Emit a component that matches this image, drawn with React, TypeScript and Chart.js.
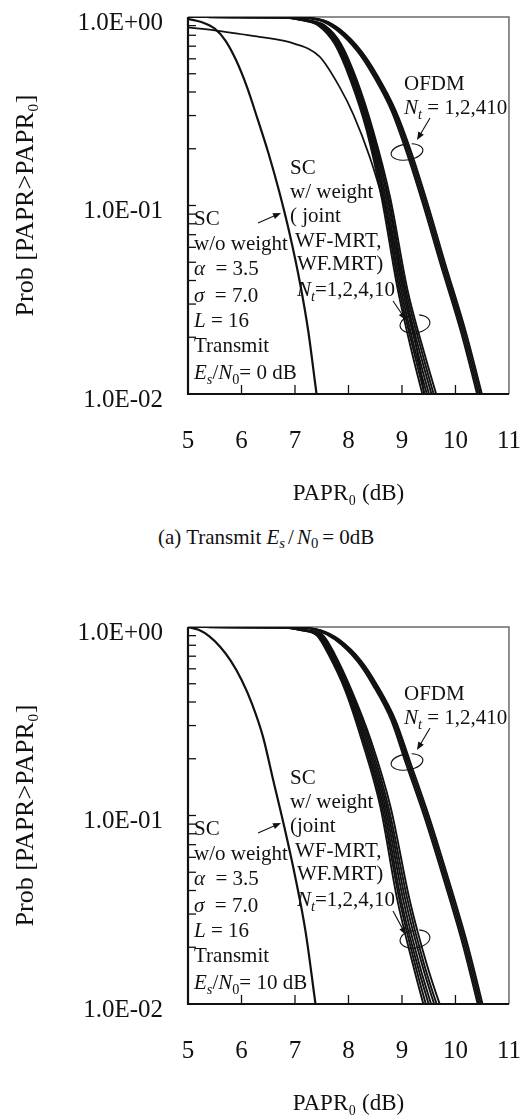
import React, { useEffect, useRef } from "react";
import { Chart, registerables } from "chart.js";

Chart.register(...registerables);

// ---------- axes ----------
const X_TICKS = [5, 6, 7, 8, 9, 10, 11];
const Y_TICKS = [1, 0.1, 0.01];
const Y_TICK_LABELS = ["1.0E+00", "1.0E-01", "1.0E-02"];
const Y_MINOR = [0.9, 0.8, 0.7, 0.6, 0.5, 0.4, 0.3, 0.2, 0.1, 0.09, 0.08, 0.07, 0.06, 0.05, 0.04, 0.03, 0.02];

// ---------- (a) Transmit Es/N0 = 0 dB ----------
// SC w/o weight
const scNoWeightX_a = [5.0, 5.25, 5.5, 5.7, 5.9, 6.1, 6.3, 6.5, 6.7, 6.9, 7.1, 7.25, 7.38, 7.45];
const scNoWeightP_a = [0.977, 0.94, 0.867, 0.75, 0.589, 0.427, 0.288, 0.191, 0.12, 0.0708, 0.038, 0.0214, 0.0112, 0.0079];
// SC w/ weight curve starting below 1
const scLowStartX_a = [5.0, 5.5, 6.0, 6.33, 6.97, 7.46, 7.83, 8.1, 8.4, 8.65, 8.9, 9.1, 9.3, 9.45];
const scLowStartP_a = [0.88, 0.85, 0.81, 0.785, 0.725, 0.616, 0.427, 0.3, 0.18, 0.105, 0.055, 0.03, 0.016, 0.0085];
// SC w/ weight bundle: x (dB) where each curve reaches SC_LEVELS
const SC_LEVELS = [1.0, 0.995, 0.96, 0.9, 0.72, 0.46, 0.25, 0.11, 0.036, 0.016, 0.008];
const scW1_a = [5, 6.62, 7.14, 7.44, 7.74, 8.04, 8.34, 8.62, 8.92, 9.2, 9.47];
const scW2_a = [5, 6.65, 7.16, 7.46, 7.76, 8.06, 8.36, 8.65, 8.95, 9.24, 9.51];
const scW3_a = [5, 6.68, 7.18, 7.48, 7.78, 8.08, 8.38, 8.67, 8.98, 9.27, 9.56];
const scW4_a = [5, 6.7, 7.2, 7.5, 7.8, 8.1, 8.4, 8.7, 9.01, 9.31, 9.6];
const scW5_a = [5, 6.73, 7.22, 7.52, 7.82, 8.12, 8.42, 8.73, 9.04, 9.35, 9.65];
const scW6_a = [5, 6.76, 7.24, 7.54, 7.84, 8.14, 8.44, 8.75, 9.07, 9.39, 9.69];
const scW7_a = [5, 6.78, 7.26, 7.56, 7.86, 8.16, 8.46, 8.78, 9.1, 9.43, 9.74];
// OFDM bundle: x (dB) where each curve reaches OFDM_LEVELS
const OFDM_LEVELS = [1.0, 0.995, 0.96, 0.86, 0.66, 0.49, 0.32, 0.19, 0.1, 0.05, 0.021, 0.008];
const ofdm1_a = [5, 6.96, 7.46, 7.76, 8.16, 8.46, 8.8, 9.09, 9.4, 9.71, 10.11, 10.49];
const ofdm2_a = [5, 6.99, 7.49, 7.79, 8.19, 8.49, 8.83, 9.12, 9.43, 9.74, 10.14, 10.52];
const ofdm3_a = [5, 7.02, 7.52, 7.82, 8.22, 8.52, 8.86, 9.15, 9.46, 9.77, 10.17, 10.55];
const ofdm4_a = [5, 7.04, 7.54, 7.84, 8.24, 8.54, 8.88, 9.18, 9.49, 9.8, 10.2, 10.58];

// ---------- (b) Transmit Es/N0 = 10 dB ----------
const scNoWeightX_b = [5.0, 5.2, 5.4, 5.6, 5.8, 6.0, 6.2, 6.4, 6.6, 6.8, 7.0, 7.2, 7.36, 7.42];
const scNoWeightP_b = [1.0, 0.966, 0.891, 0.785, 0.661, 0.525, 0.389, 0.263, 0.151, 0.0871, 0.0479, 0.024, 0.0112, 0.0083];
const scW1_b = [5, 6.62, 7.12, 7.41, 7.62, 7.94, 8.25, 8.6, 8.91, 9.21, 9.49];
const scW2_b = [5, 6.65, 7.14, 7.43, 7.64, 7.96, 8.28, 8.63, 8.95, 9.25, 9.54];
const scW3_b = [5, 6.68, 7.16, 7.45, 7.66, 7.98, 8.3, 8.66, 8.98, 9.29, 9.6];
const scW4_b = [5, 6.7, 7.18, 7.47, 7.68, 8.0, 8.33, 8.69, 9.02, 9.33, 9.65];
const scW5_b = [5, 6.73, 7.2, 7.49, 7.7, 8.02, 8.36, 8.72, 9.06, 9.38, 9.71];
const scW6_b = [5, 6.76, 7.22, 7.51, 7.72, 8.04, 8.39, 8.75, 9.1, 9.42, 9.76];
const scW7_b = [5, 6.78, 7.24, 7.53, 7.74, 8.06, 8.42, 8.79, 9.14, 9.47, 9.82];
const ofdm1_b = [5, 6.96, 7.41, 7.74, 8.16, 8.46, 8.8, 9.07, 9.41, 9.74, 10.13, 10.5];
const ofdm2_b = [5, 6.99, 7.44, 7.77, 8.19, 8.49, 8.83, 9.1, 9.44, 9.77, 10.16, 10.53];
const ofdm3_b = [5, 7.02, 7.47, 7.8, 8.22, 8.52, 8.86, 9.13, 9.47, 9.8, 10.19, 10.56];
const ofdm4_b = [5, 7.04, 7.49, 7.82, 8.24, 8.54, 8.88, 9.16, 9.5, 9.83, 10.22, 10.59];

const FONT = '"Liberation Serif", "Times New Roman", Times, serif';
const INK = "#111";

// canvas geometry: Chart.js reserves (half label + tick padding) above/right of the plot,
// so the canvas is shifted up and made wider so the plot lands where the reference has it.
const CANVAS_W = 553;
const CANVAS_H = 532;
const CANVAS_SHIFT = 23;

const pts = (xs: number[], ps: number[]) => xs.map((x, i) => ({ x, y: ps[i] }));

function line(data: { x: number; y: number }[], width: number) {
  return {
    data,
    borderColor: INK,
    borderWidth: width,
    pointRadius: 0,
    fill: false,
    cubicInterpolationMode: "monotone" as const,
  };
}

type Run = { t: string; i?: boolean; sub?: boolean };
type Label = { x: number; y: number; runs: Run[] };
type Arrow = { x1: number; y1: number; x2: number; y2: number };
type Loop = { x: number; y: number; rx: number; ry: number };

function drawRich(ctx: CanvasRenderingContext2D, x: number, yc: number, runs: Run[], size: number) {
  let cx = x;
  const base = yc + size * 0.33;
  for (const r of runs) {
    const fs = r.sub ? size * 0.68 : size;
    ctx.font = `${r.i ? "italic " : ""}${fs}px ${FONT}`;
    ctx.textBaseline = "alphabetic";
    ctx.textAlign = "left";
    ctx.fillText(r.t, cx, base + (r.sub ? size * 0.22 : 0));
    cx += ctx.measureText(r.t).width;
  }
}

function drawArrow(ctx: CanvasRenderingContext2D, a: Arrow) {
  const ang = Math.atan2(a.y2 - a.y1, a.x2 - a.x1);
  const hl = 8;
  const hw = 3.2;
  ctx.beginPath();
  ctx.moveTo(a.x1, a.y1);
  ctx.lineTo(a.x2 - Math.cos(ang) * hl * 0.8, a.y2 - Math.sin(ang) * hl * 0.8);
  ctx.stroke();
  ctx.beginPath();
  ctx.moveTo(a.x2, a.y2);
  ctx.lineTo(a.x2 - Math.cos(ang) * hl - Math.sin(ang) * hw, a.y2 - Math.sin(ang) * hl + Math.cos(ang) * hw);
  ctx.lineTo(a.x2 - Math.cos(ang) * hl + Math.sin(ang) * hw, a.y2 - Math.sin(ang) * hl - Math.cos(ang) * hw);
  ctx.closePath();
  ctx.fill();
}

const decorPlugin = {
  id: "decor",
  beforeDatasetsDraw(chart: any) {
    const { ctx, chartArea: a } = chart;
    ctx.save();
    ctx.strokeStyle = "#6a6a6a";
    ctx.lineWidth = 1.5;
    ctx.beginPath();
    ctx.moveTo(a.left, a.top);
    ctx.lineTo(a.right, a.top);
    ctx.lineTo(a.right, a.bottom);
    ctx.stroke();
    ctx.restore();
  },
  afterDatasetsDraw(chart: any, _args: any, opts: any) {
    const { ctx, chartArea: a, scales } = chart;
    ctx.save();
    ctx.strokeStyle = INK;
    ctx.fillStyle = INK;
    ctx.lineWidth = 1.3;
    for (const v of Y_MINOR) {
      const py = scales.y.getPixelForValue(v);
      ctx.beginPath();
      ctx.moveTo(a.left, py);
      ctx.lineTo(a.left + 8, py);
      ctx.stroke();
    }
    for (const v of X_TICKS.slice(1, -1)) {
      const px = scales.x.getPixelForValue(v);
      ctx.beginPath();
      ctx.moveTo(px, a.bottom);
      ctx.lineTo(px, a.bottom - 9);
      ctx.stroke();
    }
    ctx.lineWidth = 2.2;
    ctx.beginPath();
    ctx.moveTo(a.left, a.top);
    ctx.lineTo(a.left, a.bottom);
    ctx.lineTo(a.right, a.bottom);
    ctx.stroke();

    const labels: Label[] = opts.labels || [];
    for (const l of labels) drawRich(ctx, a.left + l.x, a.top + l.y, l.runs, 21);
    ctx.lineWidth = 1.1;
    const arrows: Arrow[] = opts.arrows || [];
    for (const ar of arrows)
      drawArrow(ctx, { x1: a.left + ar.x1, y1: a.top + ar.y1, x2: a.left + ar.x2, y2: a.top + ar.y2 });
    const loops: Loop[] = opts.loops || [];
    for (const lp of loops) {
      ctx.beginPath();
      ctx.ellipse(a.left + lp.x, a.top + lp.y, lp.rx, lp.ry, -0.15, -1.2, 4.6);
      ctx.stroke();
    }
    ctx.restore();
  },
};

function annotations(joint: string, esn0: string, loopSCy: number) {
  const labels: Label[] = [
    { x: 216, y: 66, runs: [{ t: "OFDM" }] },
    { x: 216, y: 90, runs: [{ t: "N", i: true }, { t: "t", i: true, sub: true }, { t: " = 1,2,410" }] },
    { x: 102, y: 150, runs: [{ t: "SC" }] },
    { x: 102, y: 174, runs: [{ t: "w/ weight" }] },
    { x: 102, y: 198, runs: [{ t: joint }] },
    { x: 107, y: 223, runs: [{ t: "WF-MRT," }] },
    { x: 109, y: 246, runs: [{ t: "WF.MRT)" }] },
    { x: 109, y: 272, runs: [{ t: "N", i: true }, { t: "t", i: true, sub: true }, { t: "=1,2,4,10" }] },
    { x: 6, y: 201, runs: [{ t: "SC" }] },
    { x: 6, y: 226, runs: [{ t: "w/o weight" }] },
    { x: 6, y: 251, runs: [{ t: "α", i: true }, { t: "  = 3.5" }] },
    { x: 6, y: 278, runs: [{ t: "σ", i: true }, { t: "  = 7.0" }] },
    { x: 6, y: 303, runs: [{ t: "L", i: true }, { t: " = 16" }] },
    { x: 6, y: 328, runs: [{ t: "Transmit" }] },
    {
      x: 6,
      y: 355,
      runs: [
        { t: "E", i: true },
        { t: "s", i: true, sub: true },
        { t: "/" },
        { t: "N", i: true },
        { t: "0", sub: true },
        { t: "= " + esn0 },
      ],
    },
  ];
  const arrows: Arrow[] = [
    { x1: 242, y1: 101, x2: 229, y2: 123 },
    { x1: 205, y1: 284, x2: 218, y2: loopSCy - 4 },
    { x1: 70, y1: 206, x2: 93, y2: 196 },
  ];
  const loops: Loop[] = [
    { x: 219, y: 135, rx: 16, ry: 8 },
    { x: 227, y: loopSCy, rx: 15, ry: 9 },
  ];
  return { labels, arrows, loops };
}

function buildConfig(datasets: any[], ann: any) {
  return {
    type: "line" as const,
    data: { datasets },
    plugins: [decorPlugin],
    options: {
      animation: false as const,
      responsive: false,
      layout: { padding: { top: 0, right: 0, bottom: 1, left: 0 } },
      plugins: {
        legend: { display: false },
        tooltip: { enabled: false },
        decor: ann,
      },
      scales: {
        x: {
          type: "linear" as const,
          min: 5,
          max: 11,
          afterBuildTicks: (s: any) => {
            s.ticks = X_TICKS.map((v) => ({ value: v }));
          },
          afterFit: (s: any) => {
            s.height = 114;
          },
          grid: { display: false, drawTicks: false },
          border: { display: false },
          ticks: {
            color: INK,
            padding: 32,
            maxRotation: 0,
            autoSkip: false,
            font: { family: FONT, size: 25 },
          },
          title: {
            display: true,
            text: "PAPR₀ (dB)",
            color: INK,
            font: { family: FONT, size: 23 },
            padding: { top: 0, bottom: 0 },
          },
        },
        y: {
          type: "logarithmic" as const,
          min: 0.01,
          max: 1,
          afterBuildTicks: (s: any) => {
            s.ticks = Y_TICKS.map((v) => ({ value: v }));
          },
          afterFit: (s: any) => {
            s.width = 188;
          },
          grid: { display: false, drawTicks: false },
          border: { display: false },
          ticks: {
            color: INK,
            padding: 25,
            labelOffset: 6,
            autoSkip: false,
            font: { family: FONT, size: 25 },
            callback: (_v: any, i: number) => Y_TICK_LABELS[i],
          },
          title: {
            display: true,
            text: "Prob [PAPR>PAPR₀]",
            color: INK,
            font: { family: FONT, size: 26 },
            padding: { top: 11, bottom: 0 },
          },
        },
      },
    },
  };
}

function datasetsA() {
  return [
    line(pts(scNoWeightX_a, scNoWeightP_a), 2.2),
    line(pts(scLowStartX_a, scLowStartP_a), 1.7),
    ...[scW1_a, scW2_a, scW3_a, scW4_a, scW5_a, scW6_a, scW7_a].map((c) => line(pts(c, SC_LEVELS), 1.9)),
    ...[ofdm1_a, ofdm2_a, ofdm3_a, ofdm4_a].map((c) => line(pts(c, OFDM_LEVELS), 1.9)),
  ];
}

function datasetsB() {
  return [
    line(pts(scNoWeightX_b, scNoWeightP_b), 2.2),
    ...[scW1_b, scW2_b, scW3_b, scW4_b, scW5_b, scW6_b, scW7_b].map((c) => line(pts(c, SC_LEVELS), 1.9)),
    ...[ofdm1_b, ofdm2_b, ofdm3_b, ofdm4_b].map((c) => line(pts(c, OFDM_LEVELS), 1.9)),
  ];
}

function PaprChart({ which }: { which: "a" | "b" }) {
  const ref = useRef<HTMLCanvasElement>(null);
  useEffect(() => {
    if (!ref.current) return;
    const cfg =
      which === "a"
        ? buildConfig(datasetsA(), annotations("( joint", "0 dB", 307))
        : buildConfig(datasetsB(), annotations("(joint", "10 dB", 312));
    const chart = new Chart(ref.current, cfg as any);
    return () => chart.destroy();
  }, [which]);
  return (
    <canvas
      ref={ref}
      width={CANVAS_W}
      height={CANVAS_H}
      style={{ width: CANVAS_W, height: CANVAS_H, display: "block" }}
    />
  );
}

const subStyle: React.CSSProperties = { fontSize: "0.7em", verticalAlign: "-0.3em", lineHeight: 0 };

export default function App() {
  return (
    <div
      style={{
        position: "absolute",
        left: 0,
        top: 0,
        width: 531,
        height: 1119,
        background: "#fff",
        overflow: "hidden",
      }}
    >
      <div style={{ position: "absolute", left: 0, top: -CANVAS_SHIFT }}>
        <PaprChart which="a" />
      </div>
      <div
        style={{
          position: "absolute",
          left: 158,
          top: 525,
          fontFamily: FONT,
          fontSize: 21,
          lineHeight: "24px",
          color: INK,
          whiteSpace: "nowrap",
        }}
      >
        (a) Transmit <i>E</i>
        <sub style={{ ...subStyle, fontStyle: "italic" }}>s</sub>
        <span style={{ margin: "0 3px" }}>/</span>
        <i>N</i>
        <sub style={subStyle}>0</sub>
        <span style={{ marginLeft: 4 }}>=</span> 0dB
      </div>
      <div style={{ position: "absolute", left: 0, top: 610 - CANVAS_SHIFT }}>
        <PaprChart which="b" />
      </div>
    </div>
  );
}
